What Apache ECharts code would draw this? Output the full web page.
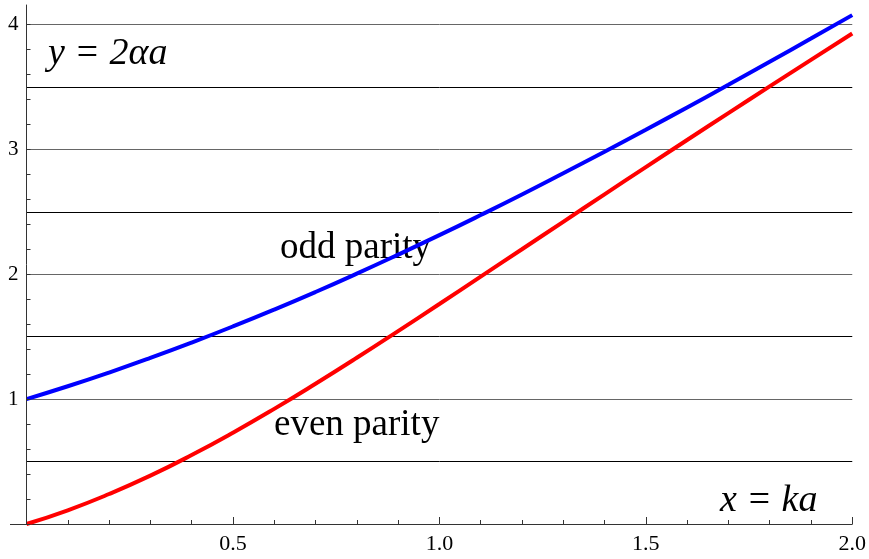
<!DOCTYPE html>
<html>
<head>
<meta charset="utf-8">
<script src="https://cdn.jsdelivr.net/npm/echarts@6/dist/echarts.min.js"></script>
<style>
  html, body { margin: 0; padding: 0; background: #fff; }
  #chart { width: 869px; height: 559px; }
</style>
</head>
<body>
<div id="chart"></div>
<script>
// Sample points along x = ka
const xValues = [0.0, 0.1, 0.2, 0.3, 0.4, 0.5, 0.6, 0.7, 0.8, 0.9, 1.0,
                 1.1, 1.2, 1.3, 1.4, 1.5, 1.6, 1.7, 1.8, 1.9, 2.0];
// y = 2αa for the odd-parity bound state
const oddParity = [1.000, 1.103, 1.213, 1.330, 1.453, 1.582, 1.717, 1.858, 2.005, 2.157, 2.313,
                   2.474, 2.639, 2.809, 2.981, 3.157, 3.336, 3.517, 3.701, 3.887, 4.075];
// y = 2αa for the even-parity bound state
const evenParity = [0.000, 0.110, 0.240, 0.387, 0.552, 0.731, 0.922, 1.123, 1.331, 1.545, 1.762,
                    1.981, 2.200, 2.420, 2.640, 2.858, 3.075, 3.290, 3.504, 3.717, 3.928];

// Axis tick positions and labels
const xTickLabels = ['0.5', '1.0', '1.5', '2.0'];
const yTickLabels = ['1', '2', '3', '4'];
const yMinorTicks = [0, 0.2, 0.4, 0.6, 0.8, 1.0, 1.2, 1.4, 1.6, 1.8, 2.0,
                     2.2, 2.4, 2.6, 2.8, 3.0, 3.2, 3.4, 3.6, 3.8, 4.0];

const Y_MAX = 4.156;
const SERIF = 'Liberation Serif';
const AXIS_COLOR = '#333';
const GRID = { left: 26.5, right: 16.5, top: 5, bottom: 35 };

const pairs = (ys) => xValues.map((x, i) => [x, ys[i]]);
const pick = (labels, digits) => (v) => {
  const s = v.toFixed(digits);
  return labels.indexOf(s) >= 0 ? s : '';
};

const chart = echarts.init(document.getElementById('chart'));
chart.setOption({
  animation: false,
  backgroundColor: '#fff',
  textStyle: { fontFamily: SERIF },
  grid: Object.assign({ containLabel: false }, GRID),
  xAxis: {
    type: 'value',
    min: 0,
    max: 2,
    interval: 0.5,
    axisLine: { show: true, onZero: false, lineStyle: { color: AXIS_COLOR, width: 1 } },
    axisTick: { show: true, inside: true, length: 7, lineStyle: { color: AXIS_COLOR } },
    minorTick: { show: true, splitNumber: 5, length: 4, lineStyle: { color: AXIS_COLOR } },
    splitLine: { show: false },
    axisLabel: {
      formatter: pick(xTickLabels, 1),
      color: '#000',
      fontFamily: SERIF,
      fontSize: 22,
      margin: 9
    }
  },
  yAxis: [
    {
      // ticks and labels
      type: 'value',
      min: 0,
      max: Y_MAX,
      interval: 1,
      axisLine: { show: true, onZero: false, lineStyle: { color: AXIS_COLOR, width: 1 } },
      axisTick: { show: true, inside: true, length: 4, customValues: yMinorTicks,
                  lineStyle: { color: AXIS_COLOR } },
      splitLine: { show: false },
      axisLabel: {
        formatter: pick(yTickLabels, 0),
        showMaxLabel: false,
        color: '#000',
        fontFamily: SERIF,
        fontSize: 21,
        margin: 8
      },
      z: 4
    },
    {
      // horizontal grid lines every 0.5
      type: 'value',
      min: 0,
      max: Y_MAX,
      interval: 0.5,
      axisLine: { show: false },
      axisTick: { show: false },
      axisLabel: { show: false },
      splitLine: {
        show: true,
        showMinLine: false,
        showMaxLine: false,
        lineStyle: { color: ['#000', '#666'], width: 1 }
      }
    }
  ],
  graphic: [
    // x axis continues a little to the left of the vertical axis
    { type: 'line', z: 5,
      shape: { x1: 10, y1: 559 - GRID.bottom + 0.5, x2: GRID.left, y2: 559 - GRID.bottom + 0.5 },
      style: { stroke: AXIS_COLOR, lineWidth: 1 } },
    { type: 'text', left: 48, top: 35, z: 0,
      style: { text: 'y = 2αa', font: 'italic 38px ' + SERIF, fill: '#000' } },
    { type: 'text', left: 280, top: 230, z: 0,
      style: { text: 'odd parity', font: '37px ' + SERIF, fill: '#000' } },
    { type: 'text', left: 274, top: 407, z: 0,
      style: { text: 'even parity', font: '37px ' + SERIF, fill: '#000' } },
    { type: 'text', left: 720, top: 482, z: 0,
      style: { text: 'x = ka', font: 'italic 38px ' + SERIF, fill: '#000' } }
  ],
  series: [
    {
      name: 'odd parity',
      type: 'line',
      yAxisIndex: 0,
      data: pairs(oddParity),
      smooth: true,
      showSymbol: false,
      lineStyle: { color: '#0000ff', width: 4 },
      z: 3
    },
    {
      name: 'even parity',
      type: 'line',
      yAxisIndex: 0,
      data: pairs(evenParity),
      smooth: true,
      showSymbol: false,
      lineStyle: { color: '#ff0000', width: 4 },
      z: 3
    }
  ]
});
</script>
</body>
</html>
